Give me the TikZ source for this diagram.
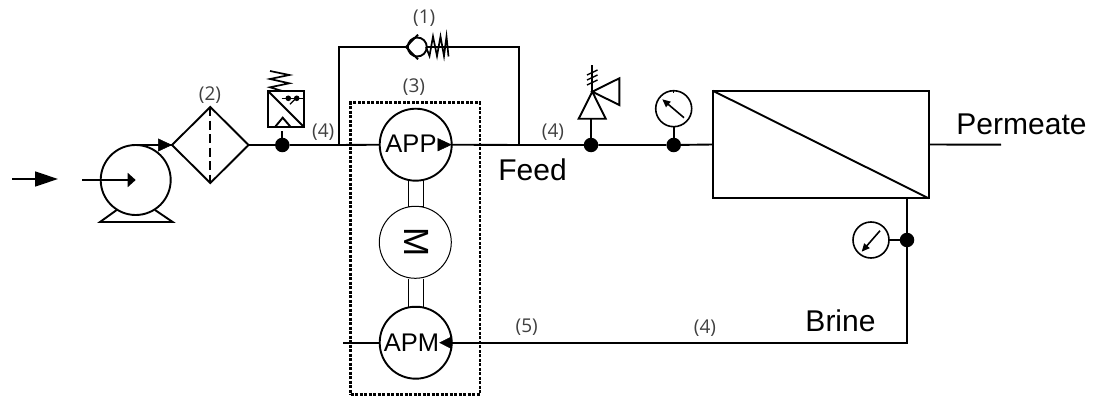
\documentclass[tikz,border=0pt]{standalone}
\usepackage{fontspec}
\setmainfont{Liberation Sans}
\newfontfamily\numfont{Open Sans}
\usetikzlibrary{arrows.meta,shapes.geometric}
\tikzset{
	pipe/.style={line width=1.9pt},
	unit/.style={circle,draw,line width=1.9pt,inner sep=0,outer sep=0,minimum size=72pt},
	gauge/.style={circle,draw,line width=1.6pt,inner sep=0,outer sep=0,minimum size=36pt},
	junction/.style={circle,fill=black,inner sep=0,outer sep=0,minimum size=14.5pt},
	tag/.style={font=\numfont\fontsize{19}{22}\selectfont,text=black!75,inner sep=0},
	caption/.style={font=\fontsize{30}{33}\selectfont,inner sep=0},
	unitname/.style={font=\fontsize{25.5}{28}\selectfont,inner sep=0},
	headr/.style={-{Triangle[length=14pt,width=13pt]},line width=.5pt},
	headl/.style={-{Triangle[length=13pt,width=13pt]},line width=.5pt},
}
\begin{document}
\begin{tikzpicture}[x=1pt,y=-1pt]
\useasboundingbox (0,0) rectangle (1093,396);
% Inlet arrow
\coordinate (inA) at (12,179);
\coordinate (inB) at (58,179);
\draw[line width=1.4pt,-{Triangle[length=23pt,width=15pt]}] (inA) -- (inB);
% Draw pump
\node[unit,minimum size=70pt] (pump) at (135.7,180) {};
\draw[pipe] (116.7,210) -- (100,222) -- (172.7,222) -- (155,210);
\coordinate (pumpin) at (82,180);
\draw[pipe,-{Triangle[length=8pt,width=14pt]}] (pumpin) -- (pump.center);
% Draw filter
\node[diamond,draw,line width=1.9pt,aspect=1,inner sep=0,outer sep=0,minimum width=76.6pt,minimum height=76pt] (filter) at (210.3,145) {};
\draw[pipe,dash pattern=on 9pt off 4.5pt] (filter.north) -- (filter.south);
\draw[pipe] (pump.north) -- (filter.west);
\draw[headr] ([xshift=-9pt]filter.west) -- (filter.west);
% Draw pressure valve at the inlet
\node[junction] (dotA) at (282.3,145) {};
\node[draw,line width=1.9pt,inner sep=0,outer sep=0,minimum size=36.6pt] (valve) at (286,109) {};
\draw[pipe] (valve.north west) -- (valve.south east);
\draw[pipe] (275,127) -- (282.7,117.7) -- (290.7,127);
\draw[line width=1.2pt] (281.7,98.3) -- (303.3,98.3);
\foreach \x in {288.3,296.7} {
	\fill (\x,98.3) circle [radius=2.8];
}
\draw[line width=1.2pt] (290,104.3) -- (296,98.3);
\draw[line width=1.7pt] (282.3,91) -- (270,87.3) -- (289.3,83.3) -- (270,79) -- (289.3,75) -- (270,71);
\draw[pipe] (dotA) -- (282.3,131);
% Draw pump units
\node[unit] (app) at (415.7,144.7) {};
\node[unit] (apm) at (415.7,342.7) {};
\node[unit,line width=1pt] (motor) at (415.3,242.3) {};
\node[unitname] (applabel) at (411,144) {APP};
\node[unitname] (apmlabel) at (411.5,343) {APM};
\node[font=\fontsize{35}{38}\selectfont,inner sep=0,rotate=-90] (motorlabel) at (416.8,242.3) {M};
\foreach \x in {408,423} {
	\draw[line width=1pt] (\x,180) -- (\x,206.5);
	\draw[line width=1pt] (\x,278.5) -- (\x,307);
}
\draw[line width=1pt] (408,206.5) -- (423,206.5);
\draw[line width=1pt] (408,307) -- (423,307);
\draw[headr] ([xshift=-14pt]app.east) -- (app.east);
\draw[headl] ([xshift=-.5pt]apm.east) -- ([xshift=-12.5pt]apm.east);
% Dotted casing
\node[draw,line width=2.4pt,dash pattern=on 3pt off 1.5pt,inner sep=0,minimum width=129.3pt,minimum height=291.6pt] (casing) at (415.3,248.5) {};
% Main pipes
\coordinate (byL) at (339.3,145);
\coordinate (byR) at (518.7,145);
\coordinate (byLtop) at (339.3,47);
\coordinate (byRtop) at (518.7,47);
\node[junction] (dotB) at (591,145) {};
\node[junction] (dotC) at (673.7,145) {};
\node[draw,line width=1.9pt,inner sep=0,outer sep=0,minimum width=216pt,minimum height=107.6pt] (membrane) at (820.7,144.5) {};
\draw[pipe] (membrane.north west) -- (membrane.south east);
\draw[pipe] (filter.east) -- (dotA) -- (byL) -- (app.west);
\draw[pipe] (app.east) -- (byR) -- (dotB) -- (dotC) -- (membrane.west);
\coordinate (permeate) at (1001,144.7);
\draw[pipe] (membrane.east) -- (permeate);
% Bypass with check valve
\node[circle,draw,line width=1.9pt,inner sep=0,outer sep=0,minimum size=19pt] (check) at (417.3,47) {};
\draw[pipe] (byL) -- (byLtop) -- (check.west);
\draw[pipe] (check.east) -- (byRtop) -- (byR);
\draw[pipe] (418,34.7) -- (406,47) -- (418,59.3);
\draw[line width=1.7pt] (426,47) -- (429.5,56) -- (433,36.5) -- (437,56) -- (440.5,36.5) -- (444,56) -- (446.5,36.5) -- (448.5,56.5);
% Relief valve
\draw[pipe] (dotB) -- (591,118.7);
\draw[pipe] (578.7,118.7) -- (605.7,118.7) -- (592.3,91.7) -- cycle;
\draw[pipe] (592.3,91.7) -- (619.3,78.3) -- (619.3,105) -- cycle;
\draw[pipe] (592.3,91.7) -- (592.3,65);
\foreach \y in {75,80,85} {
	\draw[line width=1.4pt] (587,\y) -- (597.5,\y-5);
}
% Gauge on the feed
\node[gauge] (gaugeA) at (673.7,108.7) {};
\draw[pipe] (dotC) -- (gaugeA.south);
\draw[line width=1.6pt,-{Triangle[length=8pt,width=7pt]}] (684,117.7) -- (662.3,99.3);
\draw[line width=1pt] (673.7,90.7) -- (673.7,93);
% Brine line with gauge
\coordinate (brineA) at (907,198.3);
\node[junction] (dotD) at (907,240) {};
\node[gauge] (gaugeB) at (871,240) {};
\coordinate (brineB) at (907,342.7);
\draw[pipe] (brineA) -- (dotD) -- (brineB) -- (apm.east);
\coordinate (apmout) at (342.7,342.7);
\draw[pipe] (apm.west) -- (apmout);
\draw[pipe] (dotD) -- (gaugeB.east);
\draw[line width=1.6pt,-{Triangle[length=8pt,width=7pt]}] (880,230.7) -- (861.7,251.7);
% Labels
\node[tag] (tagA) at (424.3,18) {(1)};
\node[tag] (tagB) at (210,95.3) {(2)};
\node[tag] (tagC) at (414,87.3) {(3)};
\node[tag] (tagD) at (323.3,131.7) {(4)};
\node[tag] (tagE) at (553,131.7) {(4)};
\node[tag] (tagF) at (705,328) {(4)};
\node[tag] (tagG) at (526.7,327.5) {(5)};
\node[caption] (feed) at (532.5,170) {Feed};
\node[caption] (brine) at (840.5,321) {Brine};
\node[caption] (perm) at (1021.5,124) {Permeate};
\end{tikzpicture}
\end{document}
